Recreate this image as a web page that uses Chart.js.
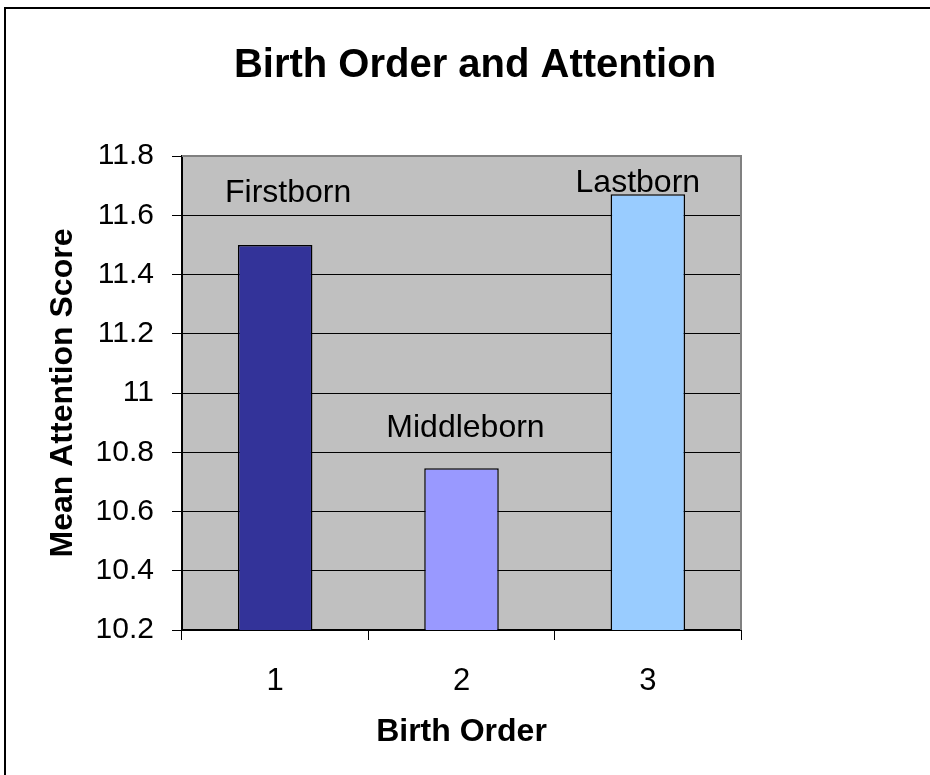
<!DOCTYPE html>
<html>
<head>
<meta charset="utf-8">
<script src="https://cdn.jsdelivr.net/npm/chart.js@4.4.0/dist/chart.umd.min.js"></script>
<style>
  html, body { margin: 0; padding: 0; background: #fff; }
  #wrap { width: 930px; height: 775px; }
</style>
</head>
<body>
<div id="wrap"><canvas id="chart" width="930" height="775"></canvas></div>
<script>
var birthOrder = ["1", "2", "3"];
var meanScores = [11.5, 10.746, 11.671];
var barNames = ["Firstborn", "Middleborn", "Lastborn"];
var barColors = ["#333399", "#9999FF", "#99CCFF"];
var yTicksMin = 10.2, yTicksMax = 11.8, yStep = 0.2;

// where the bar names sit: value on y axis for baseline, pixel nudge in x
var nameY = [11.646, 10.853, 11.68];
var nameDx = [13, 4, -10];

var FONT = "'Liberation Sans', Arial, sans-serif";

var decor = {
    id: 'decor',
    beforeDraw: function(chart) {
        var ctx = chart.ctx, a = chart.chartArea;
        ctx.save();
        ctx.fillStyle = '#fff';
        ctx.fillRect(0, 0, chart.width, chart.height);
        ctx.strokeStyle = '#000';
        ctx.lineWidth = 2;
        ctx.strokeRect(5, 8, 2000, 2000);
        ctx.fillStyle = '#C0C0C0';
        ctx.fillRect(a.left, a.top, a.right - a.left, a.bottom - a.top);
        ctx.restore();
    },
    afterDatasetsDraw: function(chart) {
        var ctx = chart.ctx, a = chart.chartArea;
        var xs = chart.scales.x, ys = chart.scales.y;
        ctx.save();
        ctx.strokeStyle = '#808080';
        ctx.lineWidth = 2;
        ctx.beginPath();
        ctx.moveTo(a.left, a.top);
        ctx.lineTo(a.right, a.top);
        ctx.lineTo(a.right, a.bottom);
        ctx.stroke();

        ctx.fillStyle = '#000';
        ctx.textAlign = 'center';
        ctx.textBaseline = 'alphabetic';
        ctx.font = "32px " + FONT;
        for (var i = 0; i < barNames.length; i++) {
            ctx.fillText(barNames[i], xs.getPixelForValue(i) + nameDx[i], ys.getPixelForValue(nameY[i]));
        }

        ctx.font = "bold 40px " + FONT;
        ctx.fillText("Birth Order and Attention", 475, 77);
        ctx.restore();
    }
};

var chart = new Chart(document.getElementById("chart"), {
    type: 'bar',
    data: {
        labels: birthOrder,
        datasets: [
            {
                data: meanScores,
                backgroundColor: barColors,
                borderColor: "#000",
                borderWidth: 1.5,
                barPercentage: 0.4,
                categoryPercentage: 1
            }
        ]
    },
    options: {
        responsive: false,
        animation: false,
        layout: { padding: { top: 156, right: 189, left: 0, bottom: 0 } },
        plugins: {
            legend: { display: false },
            tooltip: { enabled: false },
            title: { display: false }
        },
        scales: {
            x: {
                grid: { offset: true, drawOnChartArea: false, color: '#000', tickLength: 10 },
                border: { color: '#000', width: 2 },
                ticks: { color: '#000', font: { family: FONT, size: 31 }, padding: 23 },
                title: {
                    display: true, text: "Birth Order", color: '#000',
                    font: { family: FONT, size: 32, weight: 'bold' },
                    padding: { top: 0, bottom: 24 }
                },
                afterFit: function(s) { s.height = 145; }
            },
            y: {
                min: yTicksMin,
                max: yTicksMax,
                grid: { color: '#000', lineWidth: 1, tickLength: 10 },
                border: { color: '#000', width: 2 },
                ticks: {
                    stepSize: yStep, color: '#000', font: { family: FONT, size: 30 }, padding: 18,
                    callback: function(v) { return String(Math.round(v * 10) / 10); }
                },
                title: {
                    display: true, text: "Mean Attention Score", color: '#000',
                    font: { family: FONT, size: 32, weight: 'bold' },
                    padding: { top: 44, bottom: 0 }
                },
                afterFit: function(s) { s.width = 182; }
            }
        }
    },
    plugins: [decor]
});
</script>
</body>
</html>
